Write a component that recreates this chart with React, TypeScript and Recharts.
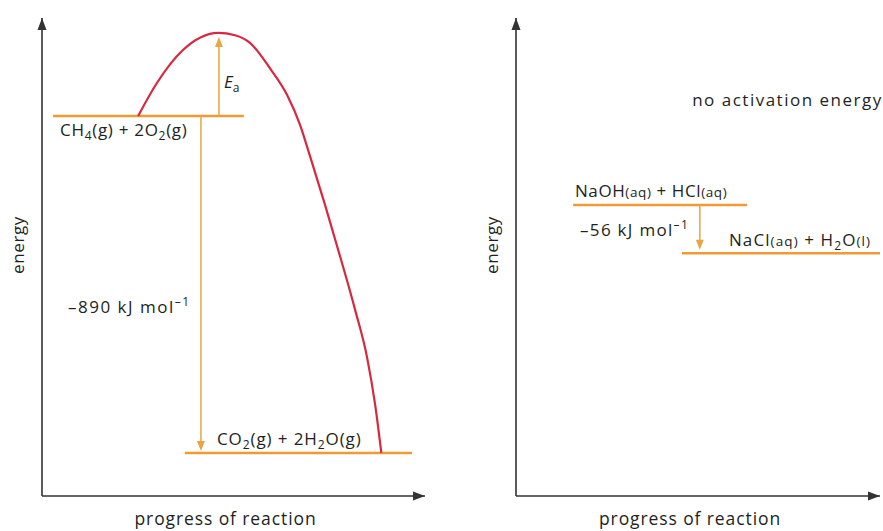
import React from "react";
import { ComposedChart, Line, Scatter, XAxis, YAxis } from "recharts";

const FONT = '"Open Sans", "Noto Sans", sans-serif';
const AXIS = "#333333";
const ORANGE = "#F09A34";
const ARROW = "#E9A542";
const RED = "#D8283F";
const TEXT = "#231F20";

type Part = { t: string; sub?: boolean; sup?: boolean; small?: boolean; italic?: boolean };

// ---- left panel: CH4 combustion (x: progress 0-100, y: energy 0-100)
const combustionCurve = [
  { x: 25.1, y: 79.5 },
  { x: 30.0, y: 86.4 },
  { x: 36.8, y: 93.3 },
  { x: 46.0, y: 96.9 },
  { x: 50.4, y: 96.4 },
  { x: 54.3, y: 94.8 },
  { x: 59.5, y: 89.5 },
  { x: 64.0, y: 83.9 },
  { x: 67.4, y: 77.6 },
  { x: 69.9, y: 71.3 },
  { x: 73.9, y: 60.9 },
  { x: 77.8, y: 50.2 },
  { x: 81.7, y: 39.1 },
  { x: 84.9, y: 28.9 },
  { x: 87.0, y: 19.0 },
  { x: 88.6, y: 9.0 },
];
const ch4Level = [{ x: 2.9, y: 79.5 }, { x: 52.7, y: 79.5 }];
const co2Level = [{ x: 37.3, y: 9.0 }, { x: 96.6, y: 9.0 }];
const eaShaft = [{ x: 46.2, y: 79.5 }, { x: 46.2, y: 94.5 }];
const dhShaft = [{ x: 41.5, y: 79.5 }, { x: 41.5, y: 11.2 }];
const leftHeads = [
  { x: 46.2, y: 96.0, dir: "up", color: ARROW },
  { x: 41.5, y: 9.4, dir: "down", color: ARROW },
  { x: 0, y: 100, dir: "up", color: AXIS },
  { x: 100, y: 0, dir: "right", color: AXIS },
];
const leftLabels = [
  { id: "ch4", x: 4.7, y: 75.3, parts: [{ t: "CH" }, { t: "4", sub: true }, { t: "(g) + 2O" }, { t: "2", sub: true }, { t: "(g)" }] as Part[] },
  { id: "ea", x: 47.5, y: 85.4, parts: [{ t: "E", italic: true }, { t: "a", sub: true }] as Part[] },
  { id: "dh", x: 6.8, y: 38.3, parts: [{ t: "–890 kJ mol" }, { t: "–1", sup: true }] as Part[] },
  { id: "co2", x: 45.7, y: 10.7, parts: [{ t: "CO" }, { t: "2", sub: true }, { t: "(g) + 2H" }, { t: "2", sub: true }, { t: "O(g)" }] as Part[] },
];

// ---- right panel: neutralisation
const naohLevel = [{ x: 15.7, y: 60.9 }, { x: 63.5, y: 60.9 }];
const naclLevel = [{ x: 45.6, y: 50.8 }, { x: 100, y: 50.8 }];
const neutShaft = [{ x: 50.5, y: 60.9 }, { x: 50.5, y: 53.4 }];
const rightHeads = [
  { x: 50.5, y: 51.5, dir: "down", color: ARROW },
  { x: 0, y: 100, dir: "up", color: AXIS },
  { x: 100, y: 0, dir: "right", color: AXIS },
];
const rightLabels = [
  { id: "note", x: 48.4, y: 81.6, parts: [{ t: "no activation energy" }] as Part[] },
  { id: "naoh", x: 16.2, y: 62.6, parts: [{ t: "NaOH" }, { t: "(aq)", small: true }, { t: " + HCl" }, { t: "(aq)", small: true }] as Part[] },
  { id: "neut", x: 17.6, y: 54.4, parts: [{ t: "–56 kJ mol" }, { t: "–1", sup: true }] as Part[] },
  { id: "nacl", x: 58.5, y: 52.3, parts: [{ t: "NaCl" }, { t: "(aq)", small: true }, { t: " + H" }, { t: "2", sub: true }, { t: "O" }, { t: "(l)", small: true }] as Part[] },
];

// letter spacing per label, to match the wider typeface of the original
const SPACING: Record<string, number> = { ch4: 0.7, ea: 0, dh: 1.5, co2: 0.9, note: 1.5, naoh: 0.6, neut: 1.3, nacl: 1.1 };

function ArrowHead(props: any) {
  const { cx, cy, payload } = props;
  const big = payload.color === AXIS;
  const len = big ? 12 : 10;
  const half = big ? 4.5 : 4;
  let pts = "";
  if (payload.dir === "up") pts = `${cx},${cy} ${cx - half},${cy + len} ${cx + half},${cy + len}`;
  else if (payload.dir === "down") pts = `${cx},${cy} ${cx - half},${cy - len} ${cx + half},${cy - len}`;
  else pts = `${cx},${cy} ${cx - len},${cy - half} ${cx - len},${cy + half}`;
  return <polygon points={pts} fill={payload.color} />;
}

function RichLabel(props: any) {
  const { cx, cy, payload } = props;
  let cur = 0;
  return (
    <text x={cx} y={cy} fill={TEXT} fontFamily={FONT} fontSize={17} letterSpacing={SPACING[payload.id] ?? 0.6}>
      {payload.parts.map((p: Part, i: number) => {
        const target = p.sub ? 4 : p.sup ? -7 : 0;
        const dy = target - cur;
        cur = target;
        const size = p.sub || p.sup ? 12 : p.small ? 13.5 : 17;
        return (
          <tspan key={i} dy={dy} fontSize={size} fontStyle={p.italic ? "italic" : "normal"}>
            {p.t}
          </tspan>
        );
      })}
    </text>
  );
}

function EnergyTitle(props: any) {
  const vb = props.viewBox || {};
  const x = (vb.x ?? 0) - 24;
  const y = (vb.y ?? 0) + (vb.height ?? 0) / 2 - 12;
  return (
    <text x={x} y={y} transform={`rotate(-90, ${x}, ${y})`} textAnchor="middle" dominantBaseline="central" fill={TEXT} fontFamily={FONT} fontSize={17} letterSpacing={0.6}>
      energy
    </text>
  );
}

function Panel({ width, left, right, children }: any) {
  return (
    <ComposedChart width={width} height={531} margin={{ top: 18, right, bottom: 0, left: left - 1 }}>
      <XAxis
        type="number"
        dataKey="x"
        domain={[0, 100]}
        height={35}
        tick={false}
        tickLine={false}
        axisLine={{ stroke: AXIS, strokeWidth: 1.6 }}
        label={{ value: "progress of reaction", position: "insideBottom", offset: 6, dx: -8, fill: TEXT, fontSize: 17.5, fontFamily: FONT, letterSpacing: 0.9 }}
      />
      <YAxis
        type="number"
        dataKey="y"
        domain={[0, 100]}
        width={1}
        tick={false}
        tickLine={false}
        axisLine={{ stroke: AXIS, strokeWidth: 1.6 }}
        label={<EnergyTitle />}
      />
      {children}
    </ComposedChart>
  );
}

const seg = (data: any[], color: string, w: number, key: string) => (
  <Line key={key} data={data} dataKey="y" stroke={color} strokeWidth={w} dot={false} isAnimationActive={false} />
);

export default function App() {
  return (
    <div style={{ position: "absolute", left: 0, top: 0, width: 883, height: 531, background: "#fff", display: "flex" }}>
      <Panel width={440} left={42} right={15}>
        {seg(ch4Level, ORANGE, 2.5, "a")}
        {seg(co2Level, ORANGE, 2.5, "b")}
        {seg(eaShaft, ARROW, 1.5, "c")}
        {seg(dhShaft, ARROW, 1.5, "d")}
        <Line data={combustionCurve} dataKey="y" type="monotone" stroke={RED} strokeWidth={2.2} dot={false} isAnimationActive={false} />
        <Scatter data={leftHeads} dataKey="y" shape={ArrowHead} isAnimationActive={false} />
        <Scatter data={leftLabels} dataKey="y" shape={RichLabel} isAnimationActive={false} />
      </Panel>
      <Panel width={443} left={76} right={3}>
        {seg(naohLevel, ORANGE, 2.5, "a")}
        {seg(naclLevel, ORANGE, 2.5, "b")}
        {seg(neutShaft, ARROW, 1.5, "c")}
        <Scatter data={rightHeads} dataKey="y" shape={ArrowHead} isAnimationActive={false} />
        <Scatter data={rightLabels} dataKey="y" shape={RichLabel} isAnimationActive={false} />
      </Panel>
    </div>
  );
}
